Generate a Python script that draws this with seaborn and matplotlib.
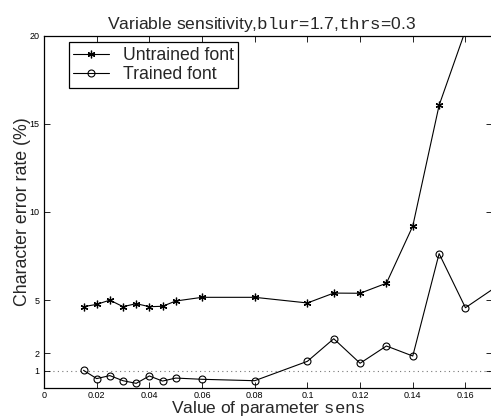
import pandas as pd
import seaborn as sns
import matplotlib.pyplot as plt

# values
sens = [0.015, 0.02, 0.025, 0.03, 0.035, 0.04, 0.045, 0.05, 0.06, 0.08,
        0.10, 0.11, 0.12, 0.13, 0.14, 0.15, 0.16]
untrained = [4.63, 4.76, 5.0, 4.63, 4.8, 4.63, 4.65, 4.95, 5.16, 5.16,
             4.84, 5.4, 5.39, 5.96, 9.2, 16.05, 20.3]
sens_trained = sens + [0.18]
trained = [1.02, 0.55, 0.72, 0.43, 0.28, 0.7, 0.41, 0.58, 0.51, 0.43,
           1.53, 2.81, 1.42, 2.4, 1.83, 7.64, 4.57, 6.6]
labels = ["Untrained font", "Trained font"]
xticks = [0, 0.02, 0.04, 0.06, 0.08, 0.1, 0.12, 0.14, 0.16]
xticklabels = ["0", "0.02", "0.04", "0.06", "0.08", "0.1", "0.12", "0.14", "0.16"]
yticks = [1, 2, 5, 10, 15, 20]

df_u = pd.DataFrame({"sens": sens, "rate": untrained})
df_t = pd.DataFrame({"sens": sens_trained, "rate": trained})

sns.set_style("ticks")
plt.rcParams["font.family"] = ["Liberation Sans", "DejaVu Sans"]
plt.rcParams["mathtext.fontset"] = "custom"
plt.rcParams["mathtext.rm"] = "Liberation Sans"
plt.rcParams["mathtext.tt"] = "Liberation Mono"

fig = plt.figure(figsize=(4.91, 4.19), dpi=100)
ax = fig.add_axes([0.0896, 0.0733, 0.912, 0.8415])

common = dict(color="black", markeredgecolor="black", linewidth=0.8, sort=False, ax=ax)
sns.lineplot(data=df_u, x="sens", y="rate", marker=(6, 2, 0), markersize=5.5,
             markeredgewidth=0.9, label=labels[0], **common)
sns.lineplot(data=df_t, x="sens", y="rate", marker="o", markersize=5,
             markerfacecolor="none", markeredgewidth=0.8, label=labels[1], **common)

ax.axhline(1, color="#777777", linestyle=(0, (1, 3)), linewidth=0.8, zorder=0)

ax.set_xlim(0, 0.17)
ax.set_ylim(0, 20)
ax.set_xticks(xticks)
ax.set_xticklabels(xticklabels)
ax.set_yticks(yticks)
ax.tick_params(direction="in", top=True, right=True, length=4, width=0.6,
               labelsize=6.5, pad=3, colors="black")
ax.tick_params(axis="x", pad=2)
for s in ax.spines.values():
    s.set_visible(True)
    s.set_linewidth(0.9)
    s.set_color("black")

ax.set_title(r"Variable sensitivity,$\mathtt{blur}$=1.7,$\mathtt{thrs}$=0.3",
             fontsize=12.6, pad=5, x=0.485)
ax.set_xlabel(r"Value of parameter $\mathtt{sens}$", fontsize=12.5, labelpad=-1)
ax.set_ylabel("Character error rate (%)", fontsize=12.8, labelpad=-1)

leg = ax.legend(loc="upper left",
                bbox_to_anchor=(0.0558, 0.981), borderaxespad=0, fontsize=12.7,
                fancybox=False, framealpha=1, edgecolor="black",
                handlelength=2.0, handletextpad=0.8, borderpad=0.25,
                labelspacing=0.15)
leg.get_frame().set_linewidth(0.9)

fig.savefig("out.png", dpi=100)
